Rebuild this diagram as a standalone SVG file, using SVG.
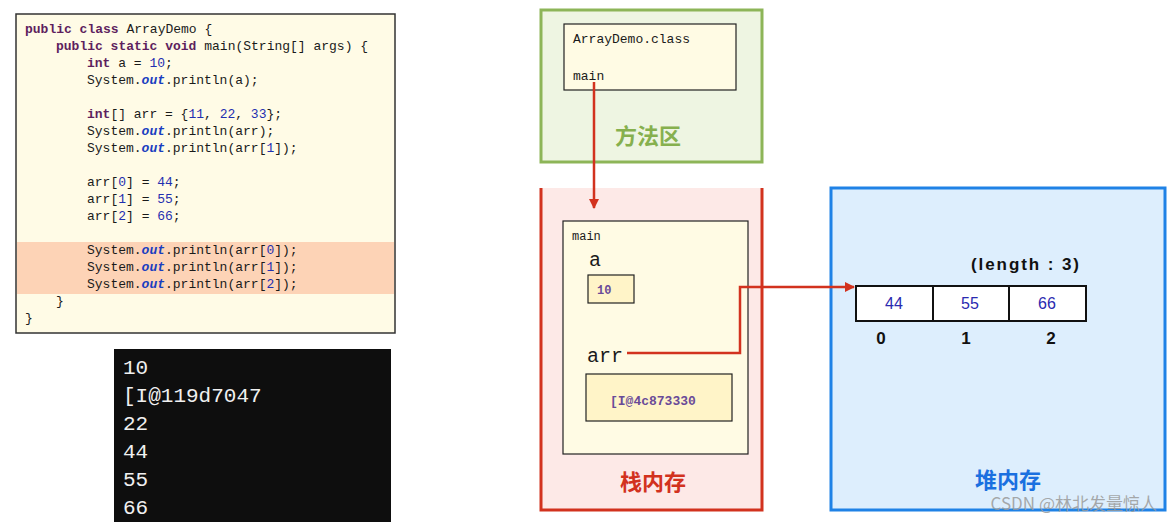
<svg xmlns="http://www.w3.org/2000/svg" width="1174" height="522" viewBox="0 0 1174 522">
  <defs>
    <marker id="arrowRed" viewBox="0 0 10 10" refX="9" refY="5" markerWidth="10" markerHeight="10" markerUnits="userSpaceOnUse" orient="auto">
      <path d="M0,0 L10,5 L0,10 z" fill="#d2321e"/>
    </marker>
  </defs>
  <style>
    .code { font-family: "Liberation Mono", "DejaVu Sans Mono", monospace; font-size: 13px; fill: #1a1a1a; white-space: pre; }
    .kw { font-weight: bold; fill: #5e1f5e; }
    .num { fill: #1f2fb0; }
    .fld { font-weight: bold; font-style: italic; fill: #1a3ec0; }
    .console { font-family: "Liberation Mono", "DejaVu Sans Mono", monospace; font-size: 21px; fill: #f0f0f0; }
    .mono { font-family: "Liberation Mono", "DejaVu Sans Mono", monospace; fill: #1a1a1a; }
    .val { font-family: "Liberation Mono", "DejaVu Sans Mono", monospace; font-weight: bold; fill: #6a4a98; }
    .title { font-family: "Noto Sans CJK SC", "Noto Sans", sans-serif; font-weight: bold; font-size: 22px; text-anchor: middle; }
    .cell { fill: #ffffff; stroke: #111; stroke-width: 2; }
    .cellv { font-family: "Liberation Sans", Arial, sans-serif; font-size: 16px; fill: #2a2ab0; text-anchor: middle; }
    .idx { font-family: "Liberation Sans", Arial, sans-serif; font-size: 17px; font-weight: bold; fill: #111; text-anchor: middle; }
    .frame { fill: #fffbe4; stroke: #222; stroke-width: 1.2; }
    .wire { fill: none; stroke: #d2321e; stroke-width: 2.5; }
  </style>

  <!-- source listing -->
  <g id="code">
    <rect x="16" y="14" width="379" height="319" fill="#fffbe6" stroke="#333" stroke-width="1.5"/>
    <rect x="17" y="242" width="377" height="52" fill="#fdd3b6"/>
    <text class="code" x="25" y="33"><tspan class="kw">public class</tspan> ArrayDemo {</text>
    <text class="code" x="56" y="50"><tspan class="kw">public static void</tspan> main(String[] args) {</text>
    <text class="code" x="87" y="67"><tspan class="kw">int</tspan> a = <tspan class="num">10</tspan>;</text>
    <text class="code" x="87" y="84">System.<tspan class="fld">out</tspan>.println(a);</text>
    <text class="code" x="87" y="118"><tspan class="kw">int</tspan>[] arr = {<tspan class="num">11</tspan>, <tspan class="num">22</tspan>, <tspan class="num">33</tspan>};</text>
    <text class="code" x="87" y="135">System.<tspan class="fld">out</tspan>.println(arr);</text>
    <text class="code" x="87" y="152">System.<tspan class="fld">out</tspan>.println(arr[<tspan class="num">1</tspan>]);</text>
    <text class="code" x="87" y="186">arr[<tspan class="num">0</tspan>] = <tspan class="num">44</tspan>;</text>
    <text class="code" x="87" y="203">arr[<tspan class="num">1</tspan>] = <tspan class="num">55</tspan>;</text>
    <text class="code" x="87" y="220">arr[<tspan class="num">2</tspan>] = <tspan class="num">66</tspan>;</text>
    <text class="code" x="87" y="254">System.<tspan class="fld">out</tspan>.println(arr[<tspan class="num">0</tspan>]);</text>
    <text class="code" x="87" y="271">System.<tspan class="fld">out</tspan>.println(arr[<tspan class="num">1</tspan>]);</text>
    <text class="code" x="87" y="288">System.<tspan class="fld">out</tspan>.println(arr[<tspan class="num">2</tspan>]);</text>
    <text class="code" x="56" y="305">}</text>
    <text class="code" x="25" y="322">}</text>
  </g>

  <!-- console output -->
  <g id="console">
    <rect x="114" y="349" width="277" height="173" fill="#0e0e0e"/>
    <text class="console" x="123" y="374">10</text>
    <text class="console" x="123" y="402">[I@119d7047</text>
    <text class="console" x="123" y="430">22</text>
    <text class="console" x="123" y="458">44</text>
    <text class="console" x="123" y="486">55</text>
    <text class="console" x="123" y="514">66</text>
  </g>

  <!-- method area -->
  <g id="method-area">
    <rect x="541" y="10" width="221" height="152" fill="#eef5e2" stroke="#8db558" stroke-width="3"/>
    <rect x="564" y="24" width="172" height="66" class="frame"/>
    <text class="mono" x="573" y="43" font-size="13">ArrayDemo.class</text>
    <text class="mono" x="573" y="80" font-size="13">main</text>
    <text class="title" x="648" y="144" fill="#86b04e">方法区</text>
  </g>

  <!-- stack memory -->
  <g id="stack">
    <rect x="541" y="188" width="221" height="322" fill="#fde9e7"/>
    <path d="M541,188 V510 H762 V188" fill="none" stroke="#d2321e" stroke-width="3"/>
    <rect x="563" y="221" width="185" height="233" class="frame"/>
    <text class="mono" x="572" y="240" font-size="12">main</text>
    <text class="mono" x="589" y="266" font-size="20">a</text>
    <rect x="588" y="275" width="46" height="28" fill="#fff4c8" stroke="#222" stroke-width="1.2"/>
    <text class="val" x="597" y="294" font-size="12">10</text>
    <text class="mono" x="587" y="362" font-size="20">arr</text>
    <rect x="586" y="374" width="146" height="47" fill="#fff4c8" stroke="#222" stroke-width="1.2"/>
    <text class="val" x="610" y="405" font-size="13">[I@4c873330</text>
    <text class="title" x="653" y="490" fill="#d2321e">栈内存</text>
  </g>

  <!-- heap memory -->
  <g id="heap">
    <rect x="831" y="188" width="334" height="322" fill="#ddeefd" stroke="#1f82e6" stroke-width="3"/>
    <text class="idx" x="1025" y="270" textLength="108" lengthAdjust="spacing">(length : 3)</text>
    <rect x="856" y="286" width="77" height="35" class="cell"/>
    <rect x="933" y="286" width="76" height="35" class="cell"/>
    <rect x="1009" y="286" width="77" height="35" class="cell"/>
    <text class="cellv" x="894" y="309">44</text>
    <text class="cellv" x="970" y="309">55</text>
    <text class="cellv" x="1047" y="309">66</text>
    <text class="idx" x="881" y="344">0</text>
    <text class="idx" x="966" y="344">1</text>
    <text class="idx" x="1051" y="344">2</text>
    <text class="title" x="1008" y="488" fill="#1a70e0">堆内存</text>
  </g>

  <!-- connectors -->
  <g id="connectors">
    <path class="wire" d="M594,82 V208" marker-end="url(#arrowRed)"/>
    <path class="wire" d="M627,353 H740 V287 H854" marker-end="url(#arrowRed)"/>
  </g>

  <text x="1157" y="510" text-anchor="end" font-family="Noto Sans CJK SC, Noto Sans, sans-serif" font-size="17" fill="#9a9a9a" fill-opacity="0.85">CSDN @林北发量惊人</text>
</svg>
